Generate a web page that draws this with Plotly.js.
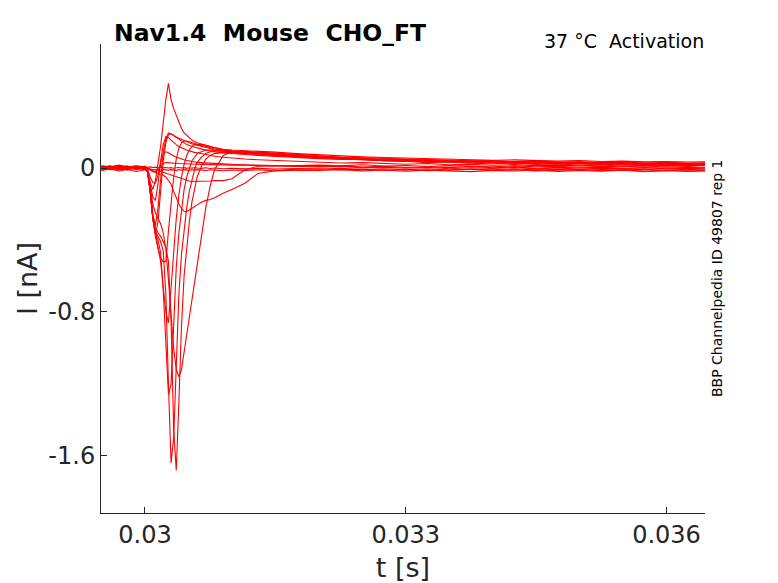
<!DOCTYPE html>
<html>
<head>
<meta charset="utf-8">
<script src="https://cdn.plot.ly/plotly-3.0.1.min.js"></script>
<style>
  html, body { margin: 0; padding: 0; background: #ffffff; }
  #chart { width: 778px; height: 583px; }
</style>
</head>
<body>
<div id="chart"></div>
<script>
// Time samples (s)
const t = [0.02950, 0.02960, 0.02970, 0.02980, 0.02990, 0.03000,
  0.03003, 0.03006, 0.03009, 0.03012, 0.03015, 0.03018, 0.03021, 0.03024, 0.03027, 0.03030,
  0.03033, 0.03036, 0.03039, 0.03042, 0.03045, 0.03048, 0.03051, 0.03054, 0.03057, 0.03060,
  0.03065, 0.03070, 0.03075, 0.03080, 0.03090, 0.03100,
  0.03115, 0.03130, 0.03150, 0.03175,
  0.03200, 0.03225, 0.03250, 0.03275, 0.03300, 0.03325, 0.03350, 0.03375, 0.03400, 0.03425,
  0.03450, 0.03475, 0.03500, 0.03525, 0.03550, 0.03575, 0.03600, 0.03625, 0.03645];

// Current traces (nA), one per voltage step
const sweep01 = [0.009, -0.006, 0.011, 0.002, -0.008, 0.004,
  -0.02, -0.12, -0.26, -0.33, -0.36, -0.38, -0.41, -0.44, -0.52, -0.85, -1.45, -1.68, -1.30, -0.88, -0.60, -0.43, -0.30, -0.19, -0.11, -0.05,
  0.01, 0.05, 0.07, 0.08, 0.085, 0.085,
  0.082, 0.078, 0.072, 0.066,
  0.060, 0.052, 0.049, 0.041, 0.038, 0.030, 0.033, 0.026, 0.024, 0.028, 0.020, 0.022, 0.017, 0.021, 0.015, 0.018, 0.013, 0.017, 0.014];
const sweep02 = [-0.007, 0.005, -0.004, 0.010, 0.001, -0.006,
  -0.02, -0.13, -0.28, -0.35, -0.38, -0.41, -0.46, -0.70, -1.20, -1.64, -1.50, -1.05, -0.70, -0.48, -0.33, -0.22, -0.13, -0.06, -0.01, 0.03,
  0.06, 0.08, 0.09, 0.09, 0.088, 0.085,
  0.08, 0.074, 0.068, 0.062,
  0.057, 0.050, 0.046, 0.043, 0.036, 0.039, 0.032, 0.029, 0.033, 0.026, 0.028, 0.022, 0.025, 0.020, 0.023, 0.018, 0.021, 0.016, 0.019];
const sweep03 = [0.004, 0.012, -0.005, -0.010, 0.007, 0.001,
  -0.02, -0.13, -0.28, -0.36, -0.40, -0.47, -0.68, -0.98, -1.26, -1.20, -0.85, -0.55, -0.36, -0.22, -0.12, -0.05, 0.00, 0.04, 0.06, 0.08,
  0.09, 0.10, 0.10, 0.097, 0.093, 0.09,
  0.085, 0.08, 0.073, 0.066,
  0.061, 0.054, 0.051, 0.045, 0.047, 0.040, 0.036, 0.038, 0.031, 0.034, 0.028, 0.031, 0.025, 0.029, 0.023, 0.026, 0.020, 0.024, 0.021];
const sweep04 = [-0.011, -0.002, 0.006, 0.003, -0.007, 0.005,
  -0.02, -0.10, -0.20, -0.25, -0.28, -0.31, -0.36, -0.45, -0.62, -0.82, -1.00, -1.12, -1.16, -1.12, -1.02, -0.92, -0.82, -0.72, -0.62, -0.53,
  -0.38, -0.22, -0.10, -0.01, 0.07, 0.09,
  0.092, 0.088, 0.082, 0.074,
  0.068, 0.061, 0.057, 0.053, 0.049, 0.046, 0.043, 0.040, 0.042, 0.036, 0.038, 0.033, 0.035, 0.030, 0.033, 0.028, 0.031, 0.027, 0.029];
const sweep05 = [0.006, -0.010, 0.0, 0.009, -0.003, -0.008,
  -0.02, -0.13, -0.28, -0.36, -0.42, -0.52, -0.66, -0.80, -0.86, -0.68, -0.45, -0.28, -0.15, -0.05, 0.02, 0.07, 0.10, 0.12, 0.13, 0.13,
  0.13, 0.125, 0.118, 0.11, 0.10, 0.095,
  0.09, 0.085, 0.078, 0.07,
  0.063, 0.058, 0.053, 0.049, 0.044, 0.046, 0.040, 0.036, 0.039, 0.033, 0.035, 0.030, 0.032, 0.027, 0.030, 0.025, 0.028, 0.024, 0.026];
const sweep06 = [-0.002, 0.008, 0.012, -0.005, 0.010, 0.0,
  -0.02, -0.13, -0.28, -0.38, -0.45, -0.50, -0.52, -0.52, -0.35, -0.18, -0.05, 0.05, 0.11, 0.14, 0.15, 0.15, 0.145, 0.14, 0.135, 0.13,
  0.125, 0.12, 0.113, 0.106, 0.098, 0.092,
  0.086, 0.08, 0.072, 0.064,
  0.058, 0.051, 0.048, 0.041, 0.043, 0.037, 0.033, 0.036, 0.030, 0.027, 0.031, 0.024, 0.027, 0.022, 0.025, 0.019, 0.023, 0.018, 0.021];
const sweep07 = [0.007, 0.0, -0.010, 0.005, -0.003, 0.002,
  -0.02, -0.08, -0.12, -0.07, 0.02, 0.12, 0.25, 0.38, 0.47, 0.38, 0.33, 0.29, 0.25, 0.22, 0.195, 0.18, 0.165, 0.155, 0.147, 0.14,
  0.133, 0.128, 0.12, 0.113, 0.104, 0.10,
  0.097, 0.094, 0.088, 0.08,
  0.073, 0.068, 0.062, 0.058, 0.055, 0.050, 0.048, 0.046, 0.043, 0.045, 0.040, 0.038, 0.041, 0.036, 0.038, 0.034, 0.036, 0.033, 0.035];
const sweep08 = [-0.005, 0.009, 0.002, -0.008, 0.007, -0.003,
  -0.02, -0.12, -0.26, -0.32, -0.22, -0.04, 0.09, 0.16, 0.195, 0.19, 0.18, 0.172, 0.165, 0.158, 0.152, 0.146, 0.14, 0.135, 0.13, 0.125,
  0.12, 0.115, 0.108, 0.10, 0.094, 0.09,
  0.087, 0.083, 0.077, 0.07,
  0.064, 0.056, 0.053, 0.046, 0.047, 0.041, 0.037, 0.039, 0.034, 0.031, 0.034, 0.028, 0.030, 0.026, 0.029, 0.024, 0.027, 0.023, 0.025];
const sweep09 = [0.003, -0.009, 0.007, 0.011, -0.005, 0.0,
  -0.02, -0.09, -0.16, -0.18, -0.09, 0.04, 0.13, 0.175, 0.17, 0.155, 0.14, 0.13, 0.12, 0.112, 0.105, 0.10, 0.095, 0.09, 0.087, 0.085,
  0.08, 0.075, 0.07, 0.065, 0.06, 0.055,
  0.05, 0.046, 0.042, 0.037,
  0.033, 0.028, 0.030, 0.024, 0.021, 0.025, 0.018, 0.020, 0.015, 0.019, 0.013, 0.016, 0.012, 0.017, 0.010, 0.014, 0.011, 0.015, 0.012];
const sweep10 = [-0.012, 0.003, 0.009, -0.003, 0.005, -0.007,
  -0.01, -0.05, -0.08, -0.085, -0.04, 0.03, 0.08, 0.09, 0.085, 0.075, 0.065, 0.06, 0.055, 0.05, 0.045, 0.04, 0.04, 0.035, 0.035, 0.03,
  0.03, 0.028, 0.026, 0.025, 0.022, 0.02,
  0.018, 0.016, 0.013, 0.011,
  0.008, 0.012, 0.005, 0.009, 0.003, 0.007, 0.002, 0.008, 0.001, 0.006, -0.002, 0.004, 0.000, 0.005, -0.003, 0.003, -0.001, 0.004, 0.000];
const sweep11 = [0.002, 0.011, -0.007, 0.003, 0.009, 0.005,
  0.0, -0.01, -0.02, -0.02, -0.01, 0.01, 0.025, 0.03, 0.03, 0.03, 0.028, 0.026, 0.025, 0.025, 0.024, 0.024, 0.023, 0.022, 0.022, 0.021,
  0.02, 0.02, 0.019, 0.018, 0.017, 0.016,
  0.015, 0.013, 0.012, 0.01,
  0.006, 0.009, 0.002, 0.005, -0.001, 0.004, -0.004, 0.001, -0.003, 0.003, -0.005, 0.000, -0.006, -0.001, -0.004, 0.001, -0.005, -0.002, -0.004];
const sweep12 = [-0.004, 0.005, -0.009, 0.007, 0.0, -0.006,
  0.0, -0.01, -0.02, -0.025, -0.03, -0.035, -0.04, -0.05, -0.07, -0.09, -0.13, -0.17, -0.20, -0.225, -0.24, -0.243, -0.235, -0.225, -0.215, -0.205,
  -0.19, -0.18, -0.175, -0.165, -0.14, -0.12,
  -0.085, -0.03, -0.015, -0.005,
  -0.004, -0.010, -0.006, -0.013, -0.009, -0.015, -0.010, -0.007, -0.014, -0.009, -0.016, -0.011, -0.008, -0.015, -0.010, -0.017, -0.012, -0.009, -0.014];
const sweep13 = [0.008, -0.004, 0.002, -0.011, 0.004, 0.009,
  0.0, -0.005, -0.01, -0.01, -0.015, -0.02, -0.025, -0.03, -0.035, -0.04, -0.045, -0.05, -0.055, -0.06, -0.065, -0.07, -0.072, -0.075, -0.075, -0.075,
  -0.075, -0.074, -0.072, -0.07, -0.07, -0.06,
  -0.01, 0.01, 0.012, 0.014,
  0.016, 0.012, 0.018, 0.011, 0.014, 0.008, 0.013, 0.010, 0.006, 0.012, 0.007, 0.010, 0.004, 0.009, 0.006, 0.011, 0.005, 0.008, 0.003];
const sweep14 = [0.0, 0.007, -0.006, 0.009, -0.009, 0.003,
  -0.02, -0.12, -0.27, -0.37, -0.30, -0.12, 0.04, 0.14, 0.185, 0.19, 0.18, 0.17, 0.16, 0.15, 0.14, 0.13, 0.125, 0.12, 0.115, 0.11,
  0.105, 0.10, 0.095, 0.09, 0.085, 0.08,
  0.075, 0.07, 0.064, 0.058,
  0.052, 0.047, 0.049, 0.042, 0.038, 0.040, 0.033, 0.035, 0.029, 0.032, 0.026, 0.030, 0.024, 0.027, 0.022, 0.026, 0.021, 0.024, 0.020];
const sweep15 = [-0.014, -0.005, -0.017, -0.008, -0.019, -0.010,
  -0.008, -0.01, -0.012, -0.01, -0.009, -0.011, -0.008, -0.01, -0.012, -0.009, -0.011, -0.013, -0.01, -0.012, -0.009, -0.011, -0.013, -0.01, -0.012, -0.009,
  -0.011, -0.014, -0.01, -0.012, -0.015, -0.011,
  -0.013, -0.01, -0.016, -0.012,
  -0.014, -0.009, -0.016, -0.011, -0.018, -0.012, -0.015, -0.020, -0.013, -0.017, -0.011, -0.019, -0.014, -0.018, -0.012, -0.021, -0.015, -0.019, -0.016];
const sweep16 = [0.014, 0.005, 0.016, 0.007, 0.012, 0.004,
  0.004, 0.006, 0.003, 0.005, 0.002, 0.004, 0.001, 0.003, 0.0, 0.002, -0.001, 0.001, 0.003, 0.0, 0.002, -0.002, 0.001, -0.001, 0.002, 0.0,
  -0.002, 0.001, -0.003, 0.0, -0.004, -0.001,
  -0.005, -0.002, -0.006, -0.003,
  -0.007, -0.002, -0.008, -0.004, -0.009, -0.005, -0.011, -0.006, -0.010, -0.004, -0.012, -0.007, -0.013, -0.008, -0.011, -0.006, -0.014, -0.009, -0.012];

// Axis ticks
const xTickVals = [0.03, 0.033, 0.036];
const xTickText = ['0.03', '0.033', '0.036'];
const yTickVals = [-1.6, -0.8, 0];
const yTickText = ['-1.6', '-0.8', '0'];

const sweeps = [sweep01, sweep02, sweep03, sweep04, sweep05, sweep06, sweep07, sweep08,
  sweep09, sweep10, sweep11, sweep12, sweep13, sweep14, sweep15, sweep16];

const FONT = 'DejaVu Sans, Liberation Sans, sans-serif';
const AX = '#262626';

const traces = sweeps.map(function (s, i) {
  if (s.length !== t.length) console.error('length mismatch sweep', i + 1, s.length);
  return {
    x: t, y: s, type: 'scatter', mode: 'lines',
    line: { color: '#ff0000', width: 1.1 },
    hoverinfo: 'skip'
  };
});

const layout = {
  width: 778, height: 583,
  margin: { l: 101, r: 73, t: 44, b: 70, pad: 0 },
  paper_bgcolor: '#ffffff', plot_bgcolor: '#ffffff',
  showlegend: false,
  font: { family: FONT, color: AX },
  xaxis: {
    range: [0.029494, 0.036443],
    tickmode: 'array', tickvals: xTickVals, ticktext: xTickText,
    ticks: 'inside', ticklen: 6, tickwidth: 1, tickcolor: AX,
    showline: true, linecolor: AX, linewidth: 1,
    showgrid: false, zeroline: false, automargin: false,
    tickfont: { family: FONT, size: 24, color: AX },
    title: { text: 't [s]', font: { family: FONT, size: 27, color: AX } }
  },
  yaxis: {
    range: [-1.917, 0.689],
    tickmode: 'array', tickvals: yTickVals, ticktext: yTickText,
    ticks: 'inside', ticklen: 6, tickwidth: 1, tickcolor: AX,
    showline: true, linecolor: AX, linewidth: 1,
    showgrid: false, zeroline: false, automargin: false,
    tickfont: { family: FONT, size: 24, color: AX },
    title: { text: 'I [nA]', font: { family: FONT, size: 27, color: AX } }
  },
  annotations: [
    {
      text: '<b>Nav1.4\u00a0\u00a0Mouse\u00a0\u00a0CHO_FT</b>',
      xref: 'paper', yref: 'paper', x: 0.0182, y: 1.0235,
      xanchor: 'left', yanchor: 'middle', showarrow: false,
      font: { family: FONT, size: 23.5, color: '#000000' }
    },
    {
      text: '37 °C\u00a0\u00a0Activation',
      xref: 'paper', yref: 'paper', x: 1.0016, y: 1.0064,
      xanchor: 'right', yanchor: 'middle', showarrow: false,
      font: { family: FONT, size: 19, color: '#000000' }
    },
    {
      text: 'BBP Channelpedia ID 49807 rep 1',
      xref: 'paper', yref: 'paper', x: 1.0199, y: 0.501,
      xanchor: 'center', yanchor: 'middle', textangle: -90, showarrow: false,
      font: { family: FONT, size: 14, color: '#000000' }
    }
  ]
};

Plotly.newPlot('chart', traces, layout, { displayModeBar: false, staticPlot: true });
</script>
</body>
</html>
